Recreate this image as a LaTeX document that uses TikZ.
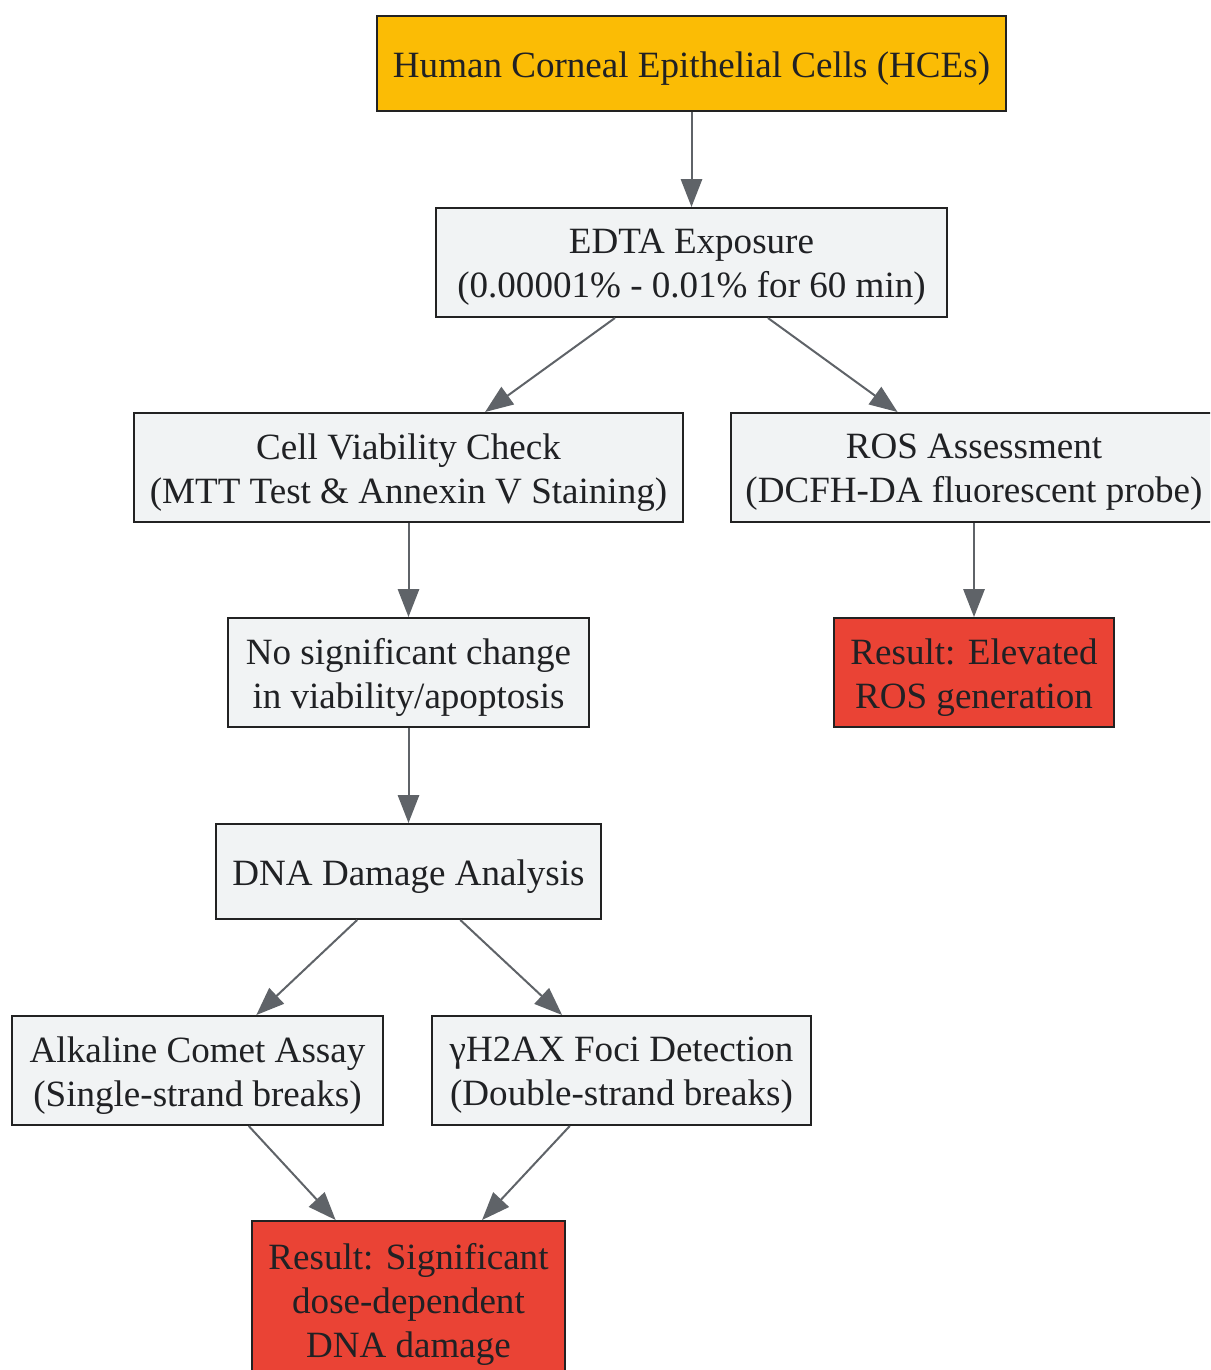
\documentclass[tikz,border=0pt]{standalone}
\usepackage{fontspec}
\setmainfont{Liberation Serif}
\usetikzlibrary{arrows.meta}
\definecolor{yel}{HTML}{FBBC05}
\definecolor{lgray}{HTML}{F1F3F4}
\definecolor{redc}{HTML}{EA4335}
\definecolor{edge}{HTML}{5F6368}
\definecolor{bord}{HTML}{222222}
\definecolor{txt}{HTML}{202124}
\tikzset{
  box/.style n args={3}{draw=bord, line width=1.5pt, fill=lgray, inner sep=0pt,
    minimum width=#1*0.75pt, minimum height=#2*0.75pt,
    label={[lbl]center:{#3}}},
  lbl/.style={align=center, inner sep=0pt, yshift=-3.75pt, text=txt,
    font=\fontsize{27.8pt}{33pt}\selectfont},
  conn/.style={draw=edge, line width=1.5pt, -{Triangle[length=21pt,width=16pt]}}
}
\begin{document}
\begin{tikzpicture}[x=0.75pt,y=-0.75pt]
\useasboundingbox (0,0) rectangle (1210,1370);
\clip (0,0) rectangle (1210,1370);
\node[box={629}{95}{Human Corneal Epithelial Cells (HCEs)}, fill=yel] (hce) at (691.5,63.5) {};
\node[box={511}{109}{EDTA Exposure\\(0.00001\% - 0.01\% for 60 min)}] (edta) at (691.5,262.5) {};
\node[box={549}{109}{Cell Viability Check\\(MTT Test \& Annexin V Staining)}] (via) at (408.5,467.5) {};
\node[box={486}{109}{ROS Assessment\\(DCFH-DA fluorescent probe)}] (ros) at (974,467.5) {};
\node[box={361}{109}{No significant change\\in viability/apoptosis}] (nosig) at (408.5,672.5) {};
\node[box={280}{109}{Result: Elevated\\ROS generation}, fill=redc] (resros) at (974,672.5) {};
\node[box={385}{95}{DNA Damage Analysis}] (dna) at (408.5,871.5) {};
\node[box={371}{109}{Alkaline Comet Assay\\(Single-strand breaks)}] (alk) at (197.5,1070.5) {};
\node[box={379}{109}{γH2AX Foci Detection\\(Double-strand breaks)}] (gh) at (621.5,1070.5) {};
\node[box={313}{156}{Result: Significant\\dose-dependent\\DNA damage}, fill=redc] (resdna) at (408.5,1299) {};
\draw[conn] (hce) -- (edta);
\draw[conn] (edta) -- (via);
\draw[conn] (edta) -- (ros);
\draw[conn] (via) -- (nosig);
\draw[conn] (ros) -- (resros);
\draw[conn] (nosig) -- (dna);
\draw[conn] (dna) -- (alk);
\draw[conn] (dna) -- (gh);
\draw[conn] (alk) -- (resdna);
\draw[conn] (gh) -- (resdna);
\end{tikzpicture}
\end{document}
